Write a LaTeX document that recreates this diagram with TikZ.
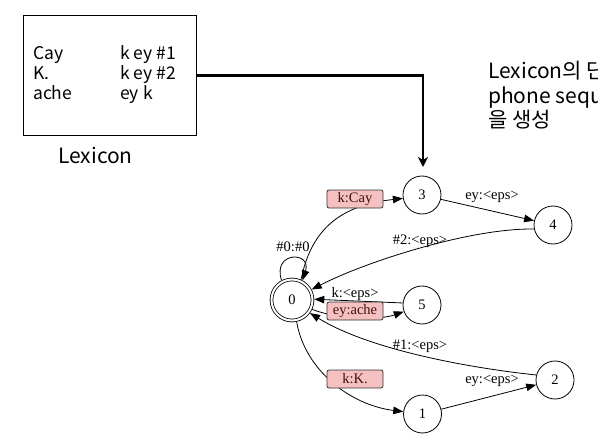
\documentclass[tikz,border=0pt]{standalone}
\usepackage{fontspec}
\setmainfont{Liberation Serif}
\newfontfamily\krfont{Noto Sans CJK KR}
\usetikzlibrary{arrows.meta}
\definecolor{lblpink}{RGB}{245,192,192}
\definecolor{lbltext}{RGB}{70,15,15}
\tikzset{
  state/.style={circle, draw, line width=0.8pt, minimum size=38pt, inner sep=0pt, font=\fontsize{14.5}{16}\selectfont},
  final/.style={state, double, double distance=2pt, minimum size=41pt, outer sep=1.8pt},
  edge/.style={line width=0.8pt, -{Triangle[length=10pt,width=7.5pt]}},
  elabel/.style={inner sep=1pt, font=\fontsize{14.5}{16}\selectfont},
  olabel/.style={elabel, draw=black!80, line width=0.8pt, rounded corners=2pt, fill=lblpink, text=lbltext, minimum width=56pt, minimum height=18pt},
  lex/.style={inner sep=0pt, anchor=base west, font=\krfont\fontsize{17.5}{20}\selectfont},
  note/.style={inner sep=0pt, anchor=base west, font=\krfont\fontsize{21}{24}\selectfont},
  bigarrow/.style={line width=2.5pt, -{Stealth[length=10pt,width=10pt,inset=3pt]}}
}
\begin{document}
\begin{tikzpicture}[x=1pt,y=-1pt]
\path[use as bounding box, fill=white] (0,0) rectangle (598,436);
% lexicon box
\node[draw, line width=0.8pt, minimum width=173pt, minimum height=120pt, inner sep=0pt, anchor=north west] (lexbox) at (23,15) {};
\foreach \w/\p [count=\i] in {Cay/k ey \#1, K./k ey \#2, ache/ey k}{
  \node[lex] (w\i) at (33,39.3+20*\i) {\w};
  \node[lex] (p\i) at (120,39.3+20*\i) {\p};
}
\node[note] (lexcap) at (58,163.3) {Lexicon};
\node[note] (t1) at (488,79) {Lexicon의 단};
\node[note] (t2) at (488,103.5) {phone seque};
\node[note] (t3) at (488,128) {을 생성};
% states
\node[final] (n0) at (292,300) {0};
\node[state] (n1) at (422.5,414) {1};
\node[state] (n2) at (555,380) {2};
\node[state] (n3) at (422,195) {3};
\node[state] (n4) at (553,225) {4};
\node[state] (n5) at (422,305) {5};
\coordinate (tip) at (423,167);
\draw[bigarrow] (lexbox.east) -| (tip);
% arcs
\draw[edge] (n0.66) .. controls (312,225) and (345,205) .. (n3.190);
\draw[edge] (n0.118) .. controls (272,251) and (312,251) .. (n0.62);
\draw[edge] (n3) -- (n4);
\draw[edge] (n4.192) .. controls (470,228) and (365,262) .. (n0.28);
\draw[edge] (n5.174) -- (n0.2);
\draw[edge] (n0.-25) .. controls (340,320) and (380,320) .. (n5.200);
\draw[edge] (n2.165) .. controls (470,368) and (370,350) .. (n0.-36);
\draw[edge] (n0.-78) .. controls (305,370) and (350,405) .. (n1.173);
\draw[edge] (n1) -- (n2);
% arc labels
\node[olabel] (lcay) at (355,199) {k:Cay};
\node[elabel] (l34) at (492,197) {ey:<eps>};
\node[elabel] (l40) at (420,241) {\#2:<eps>};
\node[elabel] (l00) at (293,247) {\#0:\#0};
\node[elabel] (l50) at (355,294) {k:<eps>};
\node[olabel] (l05) at (355,311) {ey:ache};
\node[elabel] (l20) at (420,346) {\#1:<eps>};
\node[olabel] (l01) at (355,379) {k:K.};
\node[elabel] (l12) at (492,381) {ey:<eps>};
\end{tikzpicture}
\end{document}
